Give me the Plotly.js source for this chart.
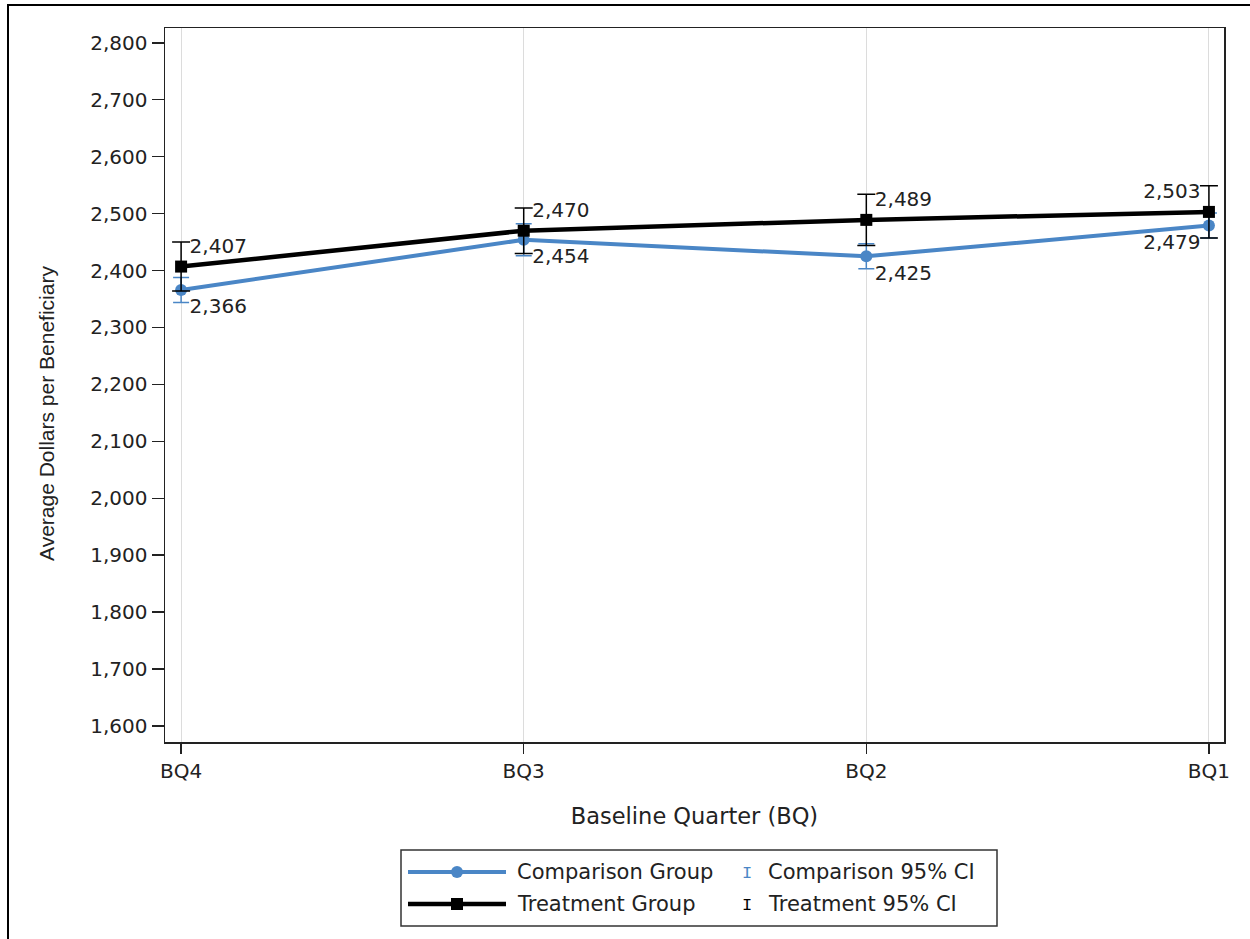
<!DOCTYPE html>
<html>
<head>
<meta charset="utf-8">
<script src="https://cdn.plot.ly/plotly-3.0.1.min.js"></script>
<style>html,body{margin:0;padding:0;background:#fff;}</style>
</head>
<body>
<div id="chart" style="width:1250px;height:939px;"></div>
<script>
// ---- data ----
var quarters = ["BQ4", "BQ3", "BQ2", "BQ1"];
var comparisonValues = [2366, 2454, 2425, 2479];
var comparisonCI = [22, 28, 22, 22];
var treatmentValues = [2407, 2470, 2489, 2503];
var treatmentCI = [43, 40, 45, 46];
var comparisonLabels = ["2,366", "2,454", "2,425", "2,479"];
var treatmentLabels = ["2,407", "2,470", "2,489", "2,503"];
var yTickValues = [1600, 1700, 1800, 1900, 2000, 2100, 2200, 2300, 2400, 2500, 2600, 2700, 2800];
var legendNames = ["Comparison Group", "Comparison 95% CI", "Treatment Group", "Treatment 95% CI"];
var xTitle = "Baseline Quarter (BQ)";
var yTitle = "Average Dollars per Beneficiary";

var BLUE = "#4a86c6";
var FONT = "DejaVu Sans, Verdana, sans-serif";
var FONT2 = "Liberation Sans, Arial, sans-serif";
var TXT = "#222";

var W = 1250, H = 939, ML = 165, MR = 26, MT = 28, MB = 197;
var PW = W - ML - MR, PH = H - MT - MB;
function px(x) { return (x - ML) / PW; }
function py(y) { return (H - MB - y) / PH; }

var traces = [
  {
    x: quarters, y: comparisonValues, type: "scatter", mode: "lines+markers+text",
    name: legendNames[0],
    line: {color: BLUE, width: 4},
    marker: {color: BLUE, size: 12, symbol: "circle"},
    error_y: {type: "data", array: comparisonCI, visible: true, color: BLUE, thickness: 1.5, width: 8},
    text: comparisonLabels,
    textposition: ["bottom right", "bottom right", "bottom right", "bottom left"],
    textfont: {family: FONT, size: 20, color: TXT},
    cliponaxis: false,
    showlegend: false
  },
  {
    x: quarters, y: treatmentValues, type: "scatter", mode: "lines+markers+text",
    name: legendNames[2],
    line: {color: "#000", width: 4.5},
    marker: {color: "#000", size: 12, symbol: "square"},
    error_y: {type: "data", array: treatmentCI, visible: true, color: "#000", thickness: 1.5, width: 9},
    text: treatmentLabels,
    textposition: ["top right", "top right", "top right", "top left"],
    textfont: {family: FONT, size: 20, color: TXT},
    cliponaxis: false,
    showlegend: false
  }
];

// ---- manual legend ----
var shapes = [
  // outer frame
  {type: "rect", xref: "paper", yref: "paper", x0: px(8), x1: px(1262), y0: py(950), y1: py(5),
   line: {color: "#000", width: 2}, fillcolor: "rgba(0,0,0,0)", layer: "below"},
  // legend box
  {type: "rect", xref: "paper", yref: "paper", x0: px(401), x1: px(997), y0: py(926), y1: py(850),
   line: {color: "#333", width: 1.5}, fillcolor: "rgba(0,0,0,0)"},
  // comparison line sample
  {type: "line", xref: "paper", yref: "paper", x0: px(408), x1: px(506), y0: py(872), y1: py(872),
   line: {color: BLUE, width: 4}},
  {type: "circle", xref: "paper", yref: "paper", xsizemode: "pixel", ysizemode: "pixel",
   xanchor: px(457), yanchor: py(872), x0: -6, x1: 6, y0: -6, y1: 6,
   line: {color: BLUE, width: 0}, fillcolor: BLUE},
  // treatment line sample
  {type: "line", xref: "paper", yref: "paper", x0: px(408), x1: px(506), y0: py(904), y1: py(904),
   line: {color: "#000", width: 4.5}},
  {type: "rect", xref: "paper", yref: "paper", xsizemode: "pixel", ysizemode: "pixel",
   xanchor: px(457), yanchor: py(904), x0: -6, x1: 6, y0: -6, y1: 6,
   line: {color: "#000", width: 0}, fillcolor: "#000"}
];

var annotations = [
  // y axis title
  {xref: "paper", yref: "paper", x: px(46), y: py(414), xanchor: "center", yanchor: "middle",
   text: yTitle, textangle: -90, showarrow: false, font: {family: FONT2, size: 21, color: TXT}},
  // legend texts
  {xref: "paper", yref: "paper", x: px(515), y: py(872), xanchor: "left", yanchor: "middle",
   text: legendNames[0], showarrow: false, font: {family: FONT, size: 21, color: TXT}},
  {xref: "paper", yref: "paper", x: px(515), y: py(904), xanchor: "left", yanchor: "middle",
   text: legendNames[2], showarrow: false, font: {family: FONT, size: 21, color: TXT}},
  {xref: "paper", yref: "paper", x: px(747), y: py(873), xanchor: "center", yanchor: "middle",
   text: "I", showarrow: false, font: {family: "Liberation Mono, monospace", size: 17, color: BLUE}},
  {xref: "paper", yref: "paper", x: px(747), y: py(905), xanchor: "center", yanchor: "middle",
   text: "I", showarrow: false, font: {family: "Liberation Mono, monospace", size: 17, color: "#000"}},
  {xref: "paper", yref: "paper", x: px(766), y: py(872), xanchor: "left", yanchor: "middle",
   text: legendNames[1], showarrow: false, font: {family: FONT, size: 21, color: TXT}},
  {xref: "paper", yref: "paper", x: px(766), y: py(904), xanchor: "left", yanchor: "middle",
   text: legendNames[3], showarrow: false, font: {family: FONT, size: 21, color: TXT}}
];

var layout = {
  width: W, height: H,
  margin: {l: ML, r: MR, t: MT, b: MB, pad: 0},
  paper_bgcolor: "#fff", plot_bgcolor: "#fff",
  showlegend: false,
  font: {family: FONT, color: TXT},
  xaxis: {
    type: "category", range: [-0.047, 3.044],
    showgrid: true, gridcolor: "#dcdcdc", gridwidth: 1,
    showline: true, linecolor: "#222", linewidth: 1.5, mirror: true,
    ticks: "outside", ticklen: 10, tickwidth: 1.5, tickcolor: "#222",
    tickfont: {family: FONT, size: 20, color: TXT},
    zeroline: false,
    title: {text: xTitle, font: {family: FONT, size: 22.5, color: TXT}, standoff: 26}
  },
  yaxis: {
    range: [1572, 2826],
    tickvals: yTickValues,
    tickformat: ",d",
    showgrid: false,
    showline: true, linecolor: "#222", linewidth: 1.5, mirror: true,
    ticks: "outside", ticklen: 12, tickwidth: 1.5, tickcolor: "#222",
    tickfont: {family: FONT, size: 20, color: TXT},
    zeroline: false
  },
  shapes: shapes,
  annotations: annotations
};

Plotly.newPlot("chart", traces, layout, {displayModeBar: false, staticPlot: true});
</script>
</body>
</html>
